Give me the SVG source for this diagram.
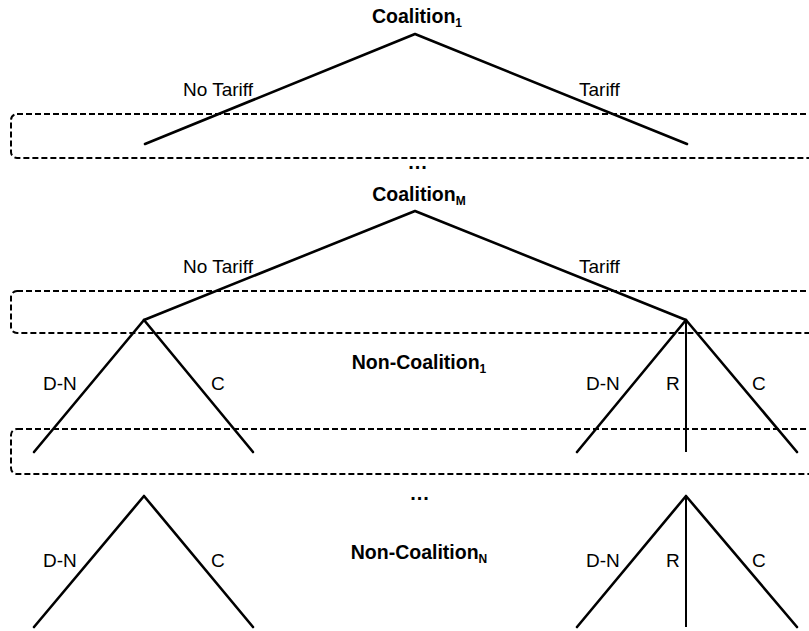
<svg xmlns="http://www.w3.org/2000/svg" width="809" height="631" viewBox="0 0 809 631">
<style>
  .br { fill: none; stroke: #000; stroke-width: 2.6; stroke-linecap: round; stroke-linejoin: round; }
  .rv { fill: none; stroke: #000; stroke-width: 2; }
  .info { fill: none; stroke: #000; stroke-width: 2; stroke-dasharray: 6 3; }
  text { font-family: "Liberation Sans", Arial, sans-serif; fill: #000; }
  .lbl { font-size: 19px; }
  .ttl { font-size: 19.5px; font-weight: bold; text-anchor: middle; }
  .sub { font-size: 12px; }
  .dots { font-size: 20px; font-weight: bold; text-anchor: middle; letter-spacing: 1px; }
</style>
<rect width="809" height="631" fill="#fff"/>
<g id="info-sets">
  <rect class="info" x="11" y="114" width="830" height="44" rx="6"/>
  <rect class="info" x="11" y="291" width="830" height="42" rx="6"/>
  <rect class="info" x="11" y="429" width="830" height="45" rx="6"/>
</g>
<g id="connectors">
  <polyline class="br" points="145,144 415,34 687,144"/>
  <polyline class="br" points="144,320 415,211 686,320"/>
  <polyline class="br" points="34,452 144,320 253,452"/>
  <polyline class="br" points="577,452 686,320 797,452"/>
  <line class="rv" x1="686" y1="320" x2="686" y2="452"/>
  <polyline class="br" points="34,627 144,496 253,627"/>
  <polyline class="br" points="577,627 686,496 797,627"/>
  <line class="rv" x1="686" y1="496" x2="686" y2="627"/>
</g>
<g id="coalition1">
  <text class="ttl" x="417" y="23">Coalition<tspan class="sub" dy="4">1</tspan></text>
  <text class="lbl" x="183" y="96">No Tariff</text>
  <text class="lbl" x="579" y="96">Tariff</text>
</g>
<g id="ellipsis1">
  <text class="dots" x="418" y="169">...</text>
</g>
<g id="coalitionM">
  <text class="ttl" x="419" y="201">Coalition<tspan class="sub" dy="4">M</tspan></text>
  <text class="lbl" x="183" y="273">No Tariff</text>
  <text class="lbl" x="579" y="273">Tariff</text>
</g>
<g id="noncoalition1">
  <text class="ttl" x="419" y="369">Non-Coalition<tspan class="sub" dy="4">1</tspan></text>
  <text class="lbl" x="43" y="390">D-N</text>
  <text class="lbl" x="211" y="390">C</text>
  <text class="lbl" x="586" y="390">D-N</text>
  <text class="lbl" x="666" y="390">R</text>
  <text class="lbl" x="752" y="390">C</text>
</g>
<g id="ellipsis2">
  <text class="dots" x="420" y="500">...</text>
</g>
<g id="noncoalitionN">
  <text class="ttl" x="419" y="559">Non-Coalition<tspan class="sub" dy="4">N</tspan></text>
  <text class="lbl" x="43" y="567">D-N</text>
  <text class="lbl" x="211" y="567">C</text>
  <text class="lbl" x="586" y="567">D-N</text>
  <text class="lbl" x="666" y="567">R</text>
  <text class="lbl" x="752" y="567">C</text>
</g>
</svg>
